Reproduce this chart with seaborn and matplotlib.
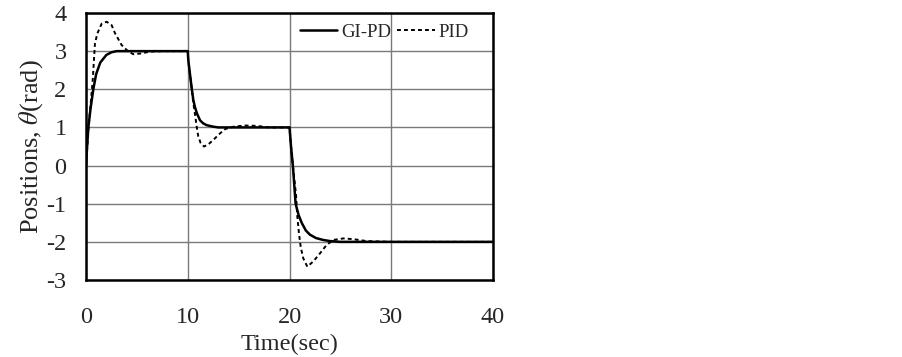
import pandas as pd
import matplotlib.pyplot as plt
import seaborn as sns

# Datos (tiempo en s, posición en rad)
t_gipd = [0, 0.1, 0.23, 0.45, 0.72, 1.0, 1.4, 2.0, 2.5, 3.0, 5.0, 8.0, 10.0,
          10.05, 10.4, 10.55, 10.7, 10.9, 11.2, 11.5, 11.85, 12.5, 13.0, 16.0, 20.0,
          20.15, 20.33, 20.6, 20.9, 21.2, 21.6, 22.0, 22.6, 23.3, 24.0, 25.0, 30.0, 40.0]
y_gipd = [0, 0.45, 1.0, 1.5, 2.0, 2.4, 2.7, 2.9, 2.97, 3.0, 3.0, 3.0, 3.0,
          2.77, 2.0, 1.72, 1.54, 1.37, 1.19, 1.11, 1.06, 1.02, 1.0, 1.0, 1.0,
          0.5, 0.0, -1.0, -1.3, -1.5, -1.7, -1.81, -1.9, -1.95, -1.98, -2.0, -2.0, -2.0]

t_pid = [0, 0.23, 0.45, 0.65, 0.72, 0.88, 1.11, 1.54, 2.03, 2.52, 2.85, 3.5, 4.16,
         4.65, 5.47, 6.3, 7.5, 10.0,
         10.05, 10.4, 10.55, 10.7, 10.88, 11.04, 11.27, 11.6, 12.0, 12.5, 13.2, 13.7,
         14.5, 15.6, 16.8, 18.0, 20.0,
         20.15, 20.33, 20.64, 20.77, 20.93, 21.1, 21.35, 21.75, 22.35, 23.0, 23.65,
         24.3, 25.3, 26.3, 27.6, 30.0, 40.0]
y_pid = [0, 0.93, 1.6, 2.2, 2.5, 3.2, 3.46, 3.72, 3.77, 3.68, 3.47, 3.16, 2.99,
         2.92, 2.94, 2.99, 3.0, 3.0,
         2.77, 2.0, 1.63, 1.37, 1.02, 0.76, 0.59, 0.50, 0.55, 0.67, 0.85, 0.96,
         1.02, 1.05, 1.04, 1.0, 1.0,
         0.5, 0.0, -0.76, -1.34, -1.78, -2.13, -2.43, -2.65, -2.51, -2.30, -2.08,
         -1.95, -1.91, -1.93, -1.98, -2.0, -2.0]

x_ticks = [0, 10, 20, 30, 40]
y_ticks = [-3, -2, -1, 0, 1, 2, 3, 4]

sns.set_style('white')
plt.rcParams['font.family'] = ['Liberation Serif', 'DejaVu Serif']
plt.rcParams['mathtext.fontset'] = 'stix'
plt.rcParams['axes.unicode_minus'] = False

df_gipd = pd.DataFrame({'t': t_gipd, 'y': y_gipd})
df_pid = pd.DataFrame({'t': t_pid, 'y': y_pid})

fig = plt.figure(figsize=(9.02, 3.57), dpi=100)
ax = fig.add_axes([86 / 902, 1 - 280 / 357, (493 - 86) / 902, (280 - 13) / 357])

sns.lineplot(data=df_pid, x='t', y='y', ax=ax, color='black', linewidth=1.4,
             linestyle=(0, (2, 1.6)), label='PID', sort=False, estimator=None)
sns.lineplot(data=df_gipd, x='t', y='y', ax=ax, color='black', linewidth=1.8,
             label='GI-PD', sort=False, estimator=None)

ax.set_xlim(0, 40)
ax.set_ylim(-3, 4)
ax.set_xticks(x_ticks)
ax.set_yticks(y_ticks)
ax.grid(True, color='#7a7a7a', linewidth=1.0)
ax.set_axisbelow(True)
for s in ax.spines.values():
    s.set_color('black')
    s.set_linewidth(1.8)

ax.tick_params(axis='both', direction='in', length=6, width=1.5, color='#333333',
               labelsize=17.5)
ax.tick_params(axis='x', pad=19.5)
ax.tick_params(axis='y', pad=14)

ax.set_xlabel('Time(sec)', fontsize=17.5, labelpad=4)
ax.set_ylabel(r'Positions, $\theta$(rad)', fontsize=19, labelpad=1)

handles, labels = ax.get_legend_handles_labels()
ax.legend(handles[::-1], labels[::-1], loc='center right', ncol=2, frameon=False,
          fontsize=13.5, handlelength=2.0, handletextpad=0.2, columnspacing=0.35,
          bbox_to_anchor=(0.941, 0.927), borderaxespad=0, borderpad=0)

plt.savefig('out.png', dpi=100)
plt.close()
